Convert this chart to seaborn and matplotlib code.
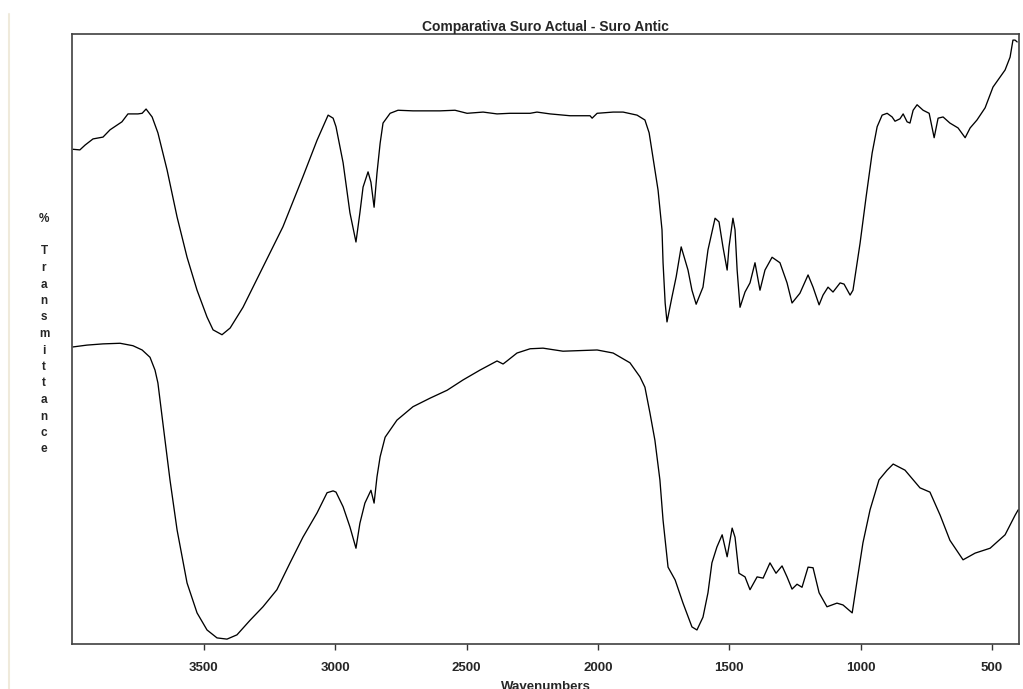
import numpy as np
import pandas as pd
import matplotlib
matplotlib.use("Agg")
import matplotlib.pyplot as plt
from matplotlib.lines import Line2D
import seaborn as sns

# ---- data (wavenumber cm-1, % transmittance) ----
wn_actual = [3998, 3972, 3952, 3922, 3884, 3857, 3812, 3789, 3751, 3735, 3720, 3697, 3675, 3640,
             3602, 3564, 3526, 3488, 3465, 3431, 3400, 3351, 3275, 3199, 3123, 3069, 3027, 3008,
             2997, 2970, 2944, 2921, 2906, 2894, 2875, 2864, 2852, 2841, 2829, 2818, 2791, 2761,
             2704, 2601, 2544, 2498, 2437, 2384, 2335, 2258, 2232, 2182, 2106, 2030, 2022, 2003,
             1942, 1904, 1851, 1821, 1805, 1771, 1756, 1752, 1744, 1737, 1718, 1702, 1683, 1657,
             1642, 1626, 1600, 1581, 1554, 1539, 1524, 1508, 1501, 1486, 1478, 1470, 1459, 1440,
             1421, 1402, 1383, 1364, 1337, 1307, 1280, 1261, 1231, 1200, 1181, 1158, 1143, 1124,
             1105, 1078, 1063, 1040, 1029, 1002, 979, 956, 937, 918, 899, 880, 869, 850, 838, 823,
             812, 800, 785, 762, 739, 720, 705, 686, 660, 629, 602, 583, 557, 526, 496, 450, 431,
             420, 412, 404]
t_actual = [81.1, 81.0, 81.8, 82.8, 83.1, 84.3, 85.6, 86.9, 86.9, 87.0, 87.7, 86.4, 83.8, 77.7,
            70.0, 63.4, 58.0, 53.6, 51.5, 50.7, 51.8, 55.2, 61.8, 68.4, 76.6, 82.6, 86.7, 86.2,
            84.8, 78.9, 70.7, 65.9, 70.7, 74.9, 77.4, 75.7, 71.6, 77.2, 82.1, 85.4, 87.0, 87.5,
            87.4, 87.4, 87.5, 87.0, 87.2, 86.9, 87.0, 87.0, 87.2, 86.9, 86.6, 86.6, 86.2, 87.0,
            87.2, 87.2, 86.7, 85.9, 83.8, 74.4, 67.9, 62.5, 55.9, 52.8, 56.9, 60.2, 65.1, 61.3,
            58.0, 55.7, 58.5, 64.6, 69.8, 69.2, 65.1, 61.3, 65.1, 69.8, 67.9, 61.3, 55.2, 57.7,
            59.2, 62.5, 58.0, 61.3, 63.4, 62.5, 59.2, 55.9, 57.5, 60.5, 58.5, 55.6, 57.2, 58.5,
            57.7, 59.2, 59.0, 57.2, 58.0, 65.7, 73.3, 80.5, 84.8, 86.7, 87.0, 86.4, 85.7, 86.1, 86.9, 85.6,
            85.4, 87.5, 88.4, 87.5, 87.0, 83.0, 86.2, 86.4, 85.4, 84.6, 83.0, 84.6, 85.9, 87.9, 91.3, 94.1, 96.2,
            99.0, 99.0, 98.7]

wn_antic = [3998, 3945, 3884, 3819, 3770, 3735, 3705, 3686, 3675, 3656, 3629, 3602, 3564, 3526,
            3488, 3450, 3412, 3374, 3324, 3275, 3222, 3172, 3123, 3069, 3031, 3008, 2997, 2970,
            2944, 2921, 2906, 2887, 2864, 2852, 2841, 2829, 2810, 2765, 2704, 2639, 2574, 2513,
            2449, 2384, 2361, 2346, 2308, 2258, 2209, 2133, 2003, 1942, 1878, 1840, 1821, 1802,
            1783, 1764, 1752, 1733, 1706, 1676, 1642, 1623, 1600, 1581, 1566, 1547, 1527, 1508,
            1489, 1478, 1463, 1440, 1421, 1394, 1371, 1345, 1322, 1299, 1280, 1261, 1242, 1223,
            1200, 1181, 1158, 1128, 1090, 1067, 1032, 1013, 991, 964, 930, 899, 876, 831, 774,
            736, 697, 660, 610, 564, 507, 450, 412, 400]
t_antic = [48.7, 49.0, 49.2, 49.3, 48.9, 48.2, 47.0, 44.9, 42.8, 36.2, 26.9, 18.7, 10.0, 5.1,
           2.3, 1.0, 0.8, 1.5, 3.9, 6.1, 8.9, 13.3, 17.5, 21.5, 24.8, 25.1, 24.9, 22.5,
           19.2, 15.7, 19.8, 23.1, 25.2, 23.1, 27.4, 30.7, 33.9, 36.7, 38.9, 40.3, 41.6, 43.3,
           44.9, 46.4, 45.9, 46.4, 47.7, 48.4, 48.5, 48.0, 48.2, 47.7, 46.1, 43.8, 42.1, 37.9,
           33.4, 26.9, 20.3, 12.6, 10.5, 6.7, 2.8, 2.3, 4.4, 8.4, 13.3, 15.9, 17.9, 14.3,
           19.0, 17.5, 11.6, 11.0, 8.9, 11.0, 10.8, 13.3, 11.6, 12.8, 11.0, 9.0, 9.8, 9.3,
           12.6, 12.5, 8.4, 6.1, 6.7, 6.4, 5.1, 10.5, 16.6, 22.0, 26.9, 28.5, 29.5, 28.5, 25.6,
           24.9, 21.1, 17.0, 13.8, 14.9, 15.7, 17.9, 21.1, 22.0]

x_ticks = [3500, 3000, 2500, 2000, 1500, 1000, 500]
title = "Comparativa Suro Actual - Suro Antic"
x_label = "Wavenumbers"
y_label = "% Transmittance"

df = pd.concat([
    pd.DataFrame({"wn": wn_actual, "T": t_actual, "sample": "Suro Actual"}),
    pd.DataFrame({"wn": wn_antic, "T": t_antic, "sample": "Suro Antic"}),
])

sns.set_style("white")
plt.rcParams["font.family"] = ["Liberation Sans", "DejaVu Sans"]

fig = plt.figure(figsize=(10.23, 6.89), dpi=100)
ax = fig.add_axes([72 / 1023, 45 / 689, 947 / 1023, 610 / 689])

sns.lineplot(data=df, x="wn", y="T", hue="sample", units="sample", estimator=None,
             sort=False, palette=["black", "black"], linewidth=0.95, legend=False, ax=ax)

ax.set_xlim(4002, 397)
ax.set_ylim(0, 100)
ax.set_xticks(x_ticks)
ax.set_xticklabels([str(t) for t in x_ticks], fontweight="bold", fontsize=9.5)
ax.set_yticks([])
ax.tick_params(axis="x", direction="out", length=4, width=1, color="#333333", pad=9,
               bottom=True)
ax.set_ylabel("")
ax.set_xlabel(x_label, fontweight="bold", fontsize=9.5, labelpad=5)
for s in ax.spines.values():
    s.set_color("#404040")
    s.set_linewidth(1.2)
ax.set_title(title, fontweight="bold", fontsize=10, pad=2.5)

# vertical, letter-stacked y label (as in the instrument software)
letters = "%\n\n" + "\n".join(list(y_label.replace("% ", "")))
fig.text(44 / 1023, 1 - 334 / 689, letters, ha="center", va="center",
         fontsize=8.5, fontweight="bold", linespacing=1.5)

# faint beige margin line at left
fig.add_artist(Line2D([8.5 / 1023, 8.5 / 1023], [0, 1 - 14 / 689], color="#efeadb",
                      linewidth=1.5, transform=fig.transFigure))

fig.savefig("out.png", dpi=100)
